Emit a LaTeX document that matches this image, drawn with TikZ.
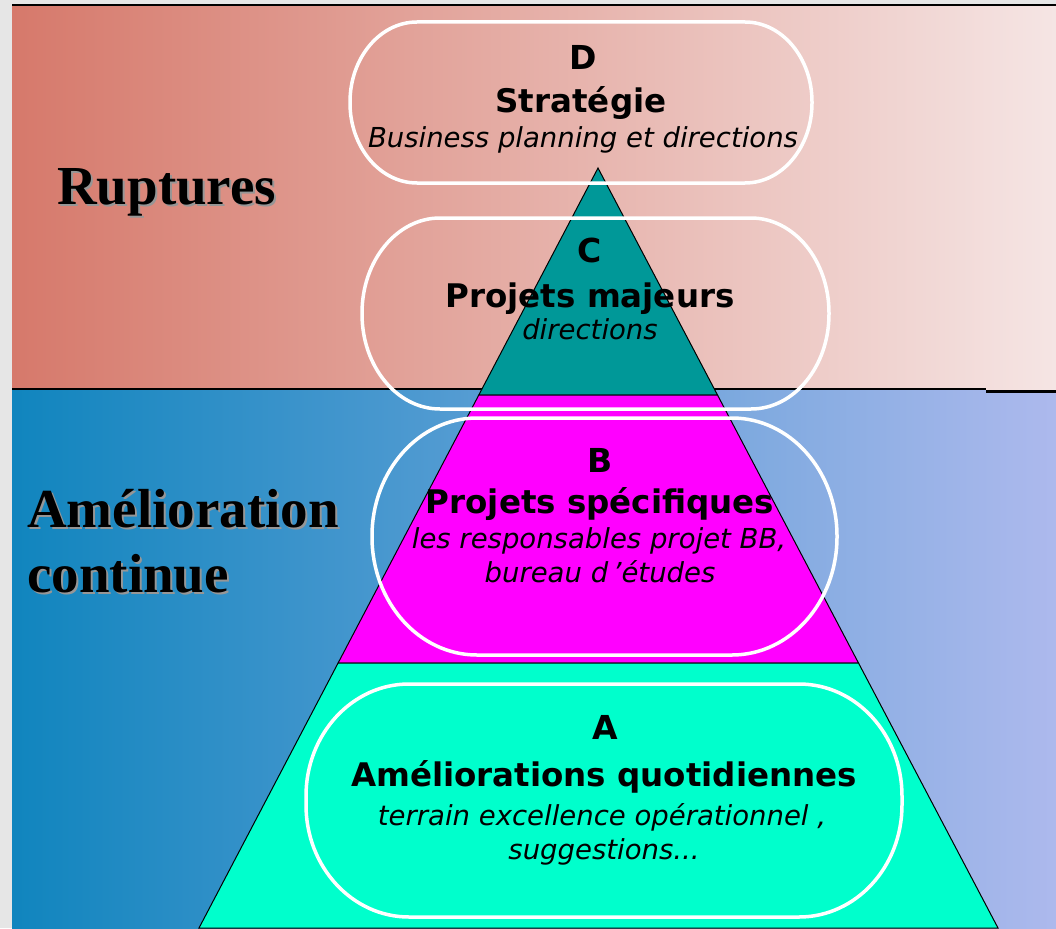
\documentclass[tikz,border=0pt]{standalone}
\usepackage{fontspec}
\setmainfont{DejaVu Sans}
\newfontfamily\labfont{Liberation Serif}
\definecolor{topL}{RGB}{214,121,107}
\definecolor{topR}{RGB}{245,229,228}
\definecolor{botL}{RGB}{16,133,190}
\definecolor{botR}{RGB}{173,185,237}
\definecolor{pgray}{RGB}{230,230,230}
\definecolor{tealC}{RGB}{0,152,152}
\definecolor{magB}{RGB}{255,0,255}
\definecolor{aquaA}{RGB}{0,255,204}
\definecolor{shadowgray}{RGB}{150,150,150}
\tikzset{
  ring/.style={draw=white, line width=3.5pt},
  lvl/.style={font=\fontsize{32.5}{36}\selectfont\bfseries, anchor=base, inner sep=0pt},
  letter/.style={font=\fontsize{33}{36}\selectfont\bfseries, anchor=base, inner sep=0pt},
  sub/.style={font=\fontsize{27.5}{30}\selectfont\itshape, anchor=base, inner sep=0pt},
  side/.style={font=\labfont\fontsize{55}{60}\selectfont\bfseries, anchor=base west, inner sep=0pt},
  pyr/.style={draw=black, line width=1pt},
}
\newcommand\stadium[6]{%
  \draw[ring] ({#1},{#2+#6}) arc[start angle=180,end angle=270,x radius=#5,y radius=#6]
    -- ({#3-#5},{#2}) arc[start angle=270,end angle=360,x radius=#5,y radius=#6]
    -- ({#3},{#4-#6}) arc[start angle=0,end angle=90,x radius=#5,y radius=#6]
    -- ({#1+#5},{#4}) arc[start angle=90,end angle=180,x radius=#5,y radius=#6]
    -- cycle;}
\begin{document}
\begin{tikzpicture}[x=1pt,y=-1pt]
\useasboundingbox (0,0) rectangle (1056,928);
\fill[pgray] (0,0) rectangle (1056,928);
% bands
\fill[left color=topL, right color=topR] (12,6) rectangle (1056,389);
\fill[left color=botL, right color=botR] (12,390) rectangle (1056,928);
\draw[black, line width=2pt] (12,5) -- (1056,5);
\draw[black, line width=2pt] (12,389) -- (986,389);
\draw[black, line width=3pt] (986,391.5) -- (1056,391.5);
% pyramid
\coordinate (apex) at (598,168);
\coordinate (cl) at (478.8,395);
\coordinate (cr) at (717.5,395);
\coordinate (bl) at (338.1,663);
\coordinate (br) at (858.5,663);
\coordinate (al) at (199,928);
\coordinate (ar) at (998,928);
\filldraw[pyr, fill=tealC] (apex) -- (cr) -- (cl) -- cycle;
\filldraw[pyr, fill=magB] (cl) -- (cr) -- (br) -- (bl) -- cycle;
\filldraw[pyr, fill=aquaA] (bl) -- (br) -- (ar) -- (al) -- cycle;
% rings
\stadium{350}{22}{812}{183}{67}{80}
\stadium{362}{218}{829}{409}{78}{95}
\stadium{372}{418}{837}{655}{105}{118}
\stadium{306}{684}{902}{917}{103}{112}
% side labels
\node[side, text=shadowgray] (rupS) at (59,206) {Ruptures};
\node[side] (rup) at (57,204) {Ruptures};
\node[side, text=shadowgray] (am1S) at (29,529) {Amélioration};
\node[side] (am1) at (27,527) {Amélioration};
\node[side, text=shadowgray] (am2S) at (29,594) {continue};
\node[side] (am2) at (27,592) {continue};
% D
\node[letter] (dL) at (583,70) {D};
\node[lvl] (dT) at (581,113) {Stratégie};
\node[sub] (dS) at (583,148) {Business planning et directions};
% C
\node[letter] (cL) at (590,262) {C};
\node[lvl] (cT) at (590,307) {Projets majeurs};
\node[sub] (cS) at (590,339) {directions};
% B
\node[letter] (bL) at (600,472) {B};
\node[lvl] (bT) at (600,513) {Projets spécifiques};
\node[sub] (bS1) at (599,548) {les responsables projet BB,};
\node[sub] (bS2) at (600,582) {bureau d\,’études};
% A
\node[letter] (aL) at (605,739) {A};
\node[lvl] (aT) at (604,786) {Améliorations quotidiennes};
\node[sub] (aS1) at (602,825) {terrain excellence opérationnel ,};
\node[sub] (aS2) at (604,859) {suggestions...};
\end{tikzpicture}
\end{document}
